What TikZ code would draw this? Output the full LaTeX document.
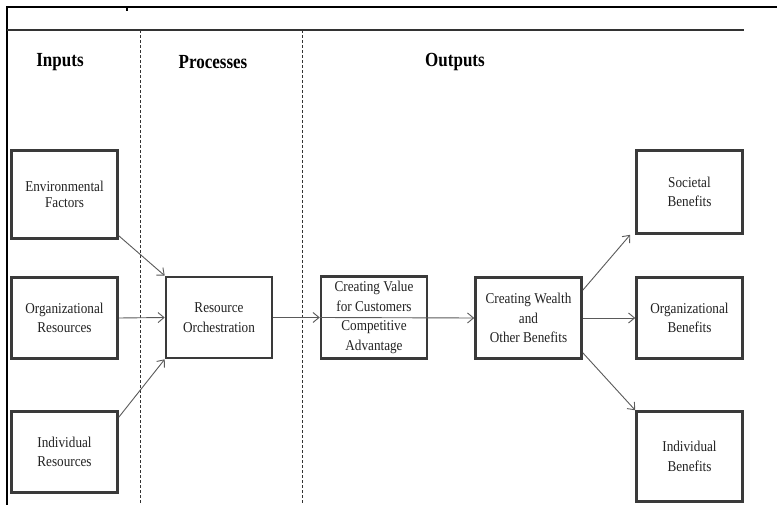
\documentclass[tikz,border=0pt]{standalone}
\usepackage{fontspec}
\setmainfont{Liberation Serif}
\newfontfamily\boxfont{Liberation Serif}[FakeStretch=0.88]
\newfontfamily\hdrfont{Liberation Serif}[FakeStretch=0.85]
\usetikzlibrary{arrows.meta}
\definecolor{boxline}{HTML}{3A3A3A}
\definecolor{arrline}{HTML}{5A5A5A}
\definecolor{txt}{HTML}{222222}
\tikzset{
  blk/.style={draw=boxline, line width=2.6pt, fill=white, align=center, inner sep=0pt,
    minimum width=106pt, font=\boxfont\fontsize{15}{19.5}\selectfont, text=txt},
  hdr/.style={font=\hdrfont\fontsize{20}{22}\selectfont\bfseries, text=black, inner sep=0pt},
  conn/.style={draw=arrline, line width=0.9pt, -{Straight Barb[length=6pt,width=10pt,line width=0.9pt]}},
  frameline/.style={draw=black, line width=2pt},
  sepline/.style={draw=black!80, line width=0.8pt, dash pattern=on 3pt off 2pt}
}
\begin{document}
\begin{tikzpicture}[x=1pt,y=-1pt]
\useasboundingbox[fill=white] (0,0) rectangle (777,505);
% frame
\coordinate (tl) at (6.5,7);
\coordinate (tr) at (777,7);
\coordinate (bl) at (6.5,505);
\draw[frameline] (bl) -- (tl) -- (tr);
\coordinate (tick1) at (127,7);
\coordinate (tick2) at (127,11);
\draw[black, line width=1.6pt] (tick1) -- (tick2);
\coordinate (il) at (7,30);
\coordinate (ir) at (744,30);
\draw[black!80, line width=1.1pt] (il) -- (ir);
% dashed separators
\coordinate (d1t) at (140,30);
\coordinate (d1b) at (140,505);
\coordinate (d2t) at (302,30);
\coordinate (d2b) at (302,505);
\draw[sepline] (d1t) -- (d1b);
\draw[sepline] (d2t) -- (d2b);
% headers
\node[hdr] (hin) at (60,62) {Inputs};
\node[hdr] (hpr) at (213,62) {Processes};
\node[hdr] (hout) at (455,62) {Outputs};
% boxes
\node[blk, minimum height=88pt, font=\boxfont\fontsize{15}{16.5}\selectfont] (env) at (64.5,194.5) {Environmental\\Factors};
\node[blk, minimum height=81pt] (org) at (64.5,318) {Organizational\\Resources};
\node[blk, minimum height=81pt] (ind) at (64.5,452) {Individual\\Resources};
\node[blk, minimum height=81pt] (ro) at (219,317.5) {Resource\\Orchestration};
\node[blk, minimum height=82pt] (cv) at (374,317.5) {Creating Value\\for Customers\\Competitive\\Advantage};
\node[blk, minimum height=81pt] (cw) at (528.5,318) {Creating Wealth\\and\\Other Benefits};
\node[blk, minimum height=83pt] (sb) at (689.5,192) {Societal\\Benefits};
\node[blk, minimum height=81pt] (ob) at (689.5,318) {Organizational\\Benefits};
\node[blk, minimum height=90pt] (ib) at (689.5,456.5) {Individual\\Benefits};
% connectors
\draw[conn] ([yshift=4pt]env.south east) -- (ro.north west);
\draw[conn] (org.east) -- (ro.west);
\draw[conn] ([yshift=-7pt]ind.north east) -- (ro.south west);
\draw[conn] (ro.east) -- (cv.west);
\draw[conn] (cv.west) -- (cw.west);
\draw[conn] ([yshift=-14pt]cw.north east) -- ([xshift=-5pt]sb.south west);
\draw[conn] (cw.east) -- (ob.west);
\draw[conn] ([yshift=7pt]cw.south east) -- (ib.north west);
\end{tikzpicture}
\end{document}
